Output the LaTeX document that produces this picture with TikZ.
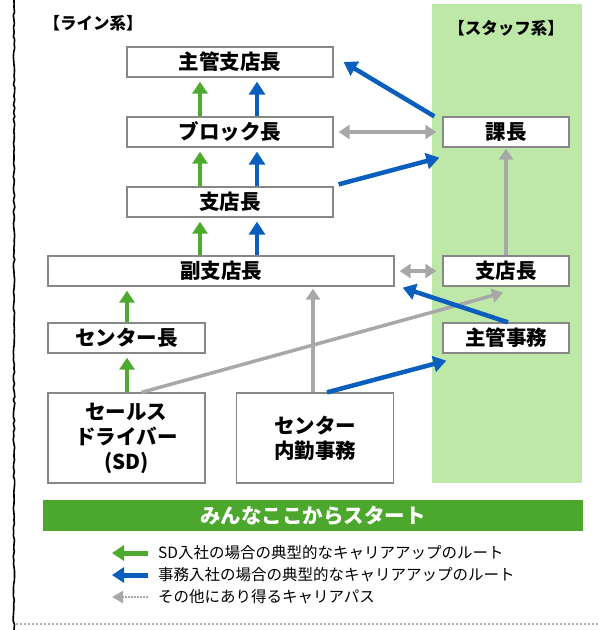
\documentclass[tikz,border=0pt]{standalone}
\usepackage{fontspec}
\setmainfont{Noto Sans CJK JP}
\usetikzlibrary{arrows.meta,decorations.pathmorphing}
\definecolor{panelgreen}{RGB}{190,232,168}
\definecolor{bargreen}{RGB}{76,168,44}
\definecolor{arrgreen}{RGB}{78,170,46}
\definecolor{arrblue}{RGB}{10,94,190}
\definecolor{arrgray}{RGB}{168,168,168}
\definecolor{boxline}{RGB}{135,135,135}
\begin{document}
\begin{tikzpicture}[x=1pt,y=-1pt,
  box/.style={draw=boxline,line width=1.3pt,fill=white,inner sep=0pt,
    font=\fontsize{20.5}{25}\selectfont\bfseries,align=center},
  wbox/.style={box,minimum width=206pt,minimum height=30pt},
  sbox/.style={box,minimum width=157pt,minimum height=30pt},
  stbox/.style={box,minimum width=126pt,minimum height=30pt},
  bigbox/.style={box,minimum width=157pt,minimum height=90pt},
  ttl/.style={font=\fontsize{16.5}{18}\selectfont\bfseries,inner sep=0pt},
  legtxt/.style={font=\fontsize{15.5}{17}\selectfont,anchor=west,inner sep=0pt},
  garr/.style={draw=arrgreen,line width=4.5pt,-{Triangle[length=12pt,width=15pt]}},
  barr/.style={draw=arrblue,line width=4.5pt,-{Triangle[length=13pt,width=16pt]}},
  grarr/.style={draw=arrgray,line width=3.5pt,-{Triangle[length=11pt,width=14pt]}},
  grdarr/.style={draw=arrgray,line width=3.5pt,{Triangle[length=11pt,width=14pt]}-{Triangle[length=11pt,width=14pt]}}
]
\useasboundingbox (0,0) rectangle (598,630);
% frame
\draw[black,line width=1.6pt,decorate,decoration={random steps,segment length=4pt,amplitude=0.8pt}] (14,0) -- (14,630);
\draw[gray!60,line width=2pt,dotted] (16,624) -- (598,624);
% staff panel
\fill[panelgreen] (432,4) rectangle (582,483);
\node[ttl] (tline) at (93,23) {【ライン系】};
\node[ttl] (tstaff) at (506,28) {【スタッフ系】};
% line boxes
\node[wbox] (shukan) at (230,62) {主管支店長};
\node[wbox] (block) at (230,132) {ブロック長};
\node[wbox] (shiten) at (230,202) {支店長};
\node[box,minimum width=346pt,minimum height=30pt] (fuku) at (221,271) {副支店長};
\node[sbox] (center) at (126.5,338) {センター長};
\node[bigbox] (sd) at (126.5,438) {セールス\\ドライバー\\(SD)};
\node[bigbox] (naikin) at (315,438) {センター\\内勤事務};
% staff boxes
\node[stbox] (kacho) at (506,132) {課長};
\node[stbox] (sshiten) at (506,271) {支店長};
\node[stbox] (shumu) at (506,338) {主管事務};
% start bar
\node[fill=bargreen,minimum width=540pt,minimum height=31pt,inner sep=0pt,
  text=white,font=\fontsize{20.5}{22}\selectfont\bfseries] (start) at (313,515.5) {みんなここからスタート};
% helper x positions
\coordinate (gx) at (200,0);
\coordinate (bx) at (257,0);
\coordinate (cx) at (127,0);
% gray arrows
\draw[grdarr,shorten <=5pt,shorten >=6pt] (block.east) -- (kacho.west);
\draw[grdarr,shorten <=5pt,shorten >=6pt] (fuku.east) -- (sshiten.west);
\draw[grarr,shorten >=1pt] (sshiten.north) -- (kacho.south);
\draw[grarr] ([xshift=15pt]sd.north) -- ([xshift=-3pt,yshift=-6pt]sshiten.south);
\draw[grarr,shorten >=2pt] ([xshift=-2pt]naikin.north) -- ([xshift=-2pt]naikin.north |- fuku.south);
% green arrows
\draw[garr,shorten >=4pt] (block.north -| gx) -- (shukan.south -| gx);
\draw[garr,shorten >=4pt] (shiten.north -| gx) -- (block.south -| gx);
\draw[garr,shorten >=4pt] (fuku.north -| gx) -- (shiten.south -| gx);
\draw[garr,shorten >=4pt] (center.north -| cx) -- (fuku.south -| cx);
\draw[garr,shorten >=4pt] (sd.north -| cx) -- (center.south -| cx);
% blue arrows
\draw[barr,shorten >=4pt] (block.north -| bx) -- (shukan.south -| bx);
\draw[barr,shorten >=4pt] (shiten.north -| bx) -- (block.south -| bx);
\draw[barr,shorten >=4pt] (fuku.north -| bx) -- (shiten.south -| bx);
\draw[barr] ([xshift=-8pt]kacho.north west) -- ([xshift=10pt]shukan.east);
\draw[barr] ([xshift=5pt,yshift=2pt]shiten.north east) -- ([xshift=-3pt,yshift=-10pt]kacho.south west);
\draw[barr] ([xshift=2pt]shumu.north) -- ([xshift=8pt,yshift=-1pt]fuku.south east);
\draw[barr] ([xshift=12pt]naikin.north) -- ([xshift=4pt,yshift=-7pt]shumu.south west);
% legend
\coordinate (lg1) at (148,553);
\coordinate (lg2) at (148,575);
\coordinate (lg3) at (148,597);
\draw[draw=arrgreen,line width=5pt,-{Triangle[length=12pt,width=15pt]}] (lg1) -- ++(-36,0);
\draw[draw=arrblue,line width=5pt,-{Triangle[length=12pt,width=15pt]}] (lg2) -- ++(-36,0);
\draw[draw=arrgray,line width=2pt,densely dotted,-{Triangle[length=11pt,width=12pt]}] (lg3) -- ++(-36,0);
\node[legtxt] (l1) at (158,553) {SD入社の場合の典型的なキャリアアップのルート};
\node[legtxt] (l2) at (158,575) {事務入社の場合の典型的なキャリアアップのルート};
\node[legtxt] (l3) at (158,597) {その他にあり得るキャリアパス};
\end{tikzpicture}
\end{document}
